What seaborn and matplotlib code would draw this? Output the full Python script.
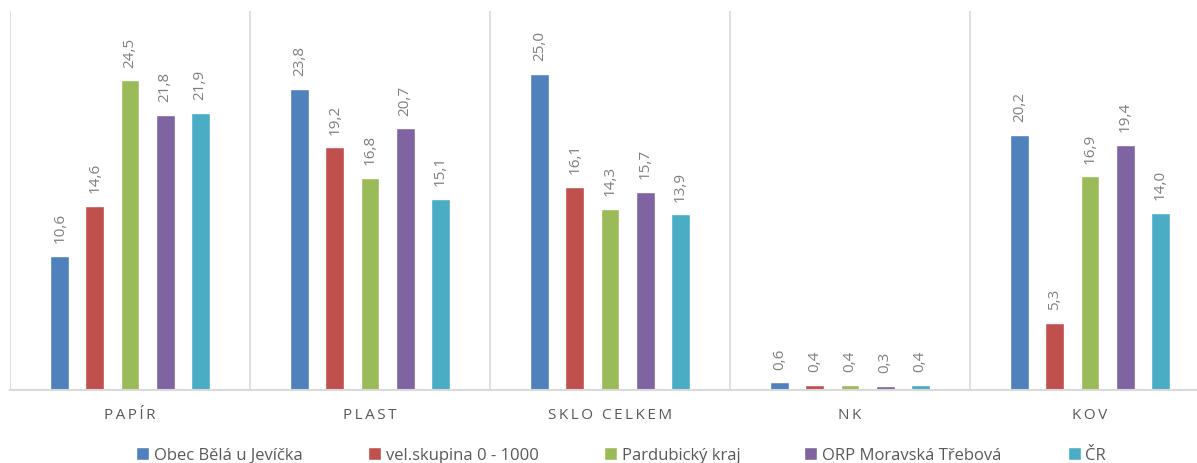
import pandas as pd
import matplotlib.pyplot as plt
import seaborn as sns

categories = ['PAPÍR', 'PLAST', 'SKLO CELKEM', 'NK', 'KOV']
series = ['Obec Bělá u Jevíčka', 'vel.skupina 0 - 1000', 'Pardubický kraj',
          'ORP Moravská Třebová', 'ČR']
obec = [10.6, 23.8, 25.0, 0.6, 20.2]
skupina = [14.6, 19.2, 16.1, 0.4, 5.3]
kraj = [24.5, 16.8, 14.3, 0.4, 16.9]
orp = [21.8, 20.7, 15.7, 0.3, 19.4]
cr = [21.9, 15.1, 13.9, 0.4, 14.0]
colors = ['#4F81BD', '#C0504D', '#9BBB59', '#8064A2', '#4BACC6']

rows = []
for name, vals in zip(series, [obec, skupina, kraj, orp, cr]):
    for cat, v in zip(categories, vals):
        rows.append({'cat': cat, 'series': name, 'value': v})
df = pd.DataFrame(rows)

sns.set_style('white')
plt.rcParams['font.family'] = ['Open Sans', 'DejaVu Sans']

fig = plt.figure(figsize=(11.97, 4.64), dpi=100)
ax = fig.add_axes([10 / 1197, 73 / 464, 1200 / 1197, 379 / 464])

sns.barplot(data=df, x='cat', y='value', hue='series', order=categories,
            hue_order=series, palette=colors, width=0.73, gap=0.46,
            saturation=1, ax=ax, legend=True)

# value labels
for cont in ax.containers:
    labels = [f'{v:.1f}'.replace('.', ',') for v in cont.datavalues]
    ax.bar_label(cont, labels=labels, rotation=90, padding=10,
                 fontsize=11, color='#7F7F7F')

ax.set_xlim(-0.5, 4.5)
ax.set_ylim(0, 30)
for xb in [-0.5, 0.5, 1.5, 2.5, 3.5]:
    ax.axvline(xb, color='#D9D9D9', lw=1.2, zorder=0)
for s in ['top', 'right', 'left']:
    ax.spines[s].set_visible(False)
ax.spines['bottom'].set_color('#D9D9D9')
ax.spines['bottom'].set_linewidth(1.5)
ax.set_yticks([])
ax.set_xlabel('')
ax.set_ylabel('')
ax.set_xticks(range(5))
ax.set_xticklabels(['\u2009'.join(c) for c in categories], fontsize=11,
                   color='#595959')
ax.tick_params(axis='x', length=0, pad=12)

# legend entries placed one by one, like Excel spreads them
handles, labels = ax.get_legend_handles_labels()
ax.get_legend().remove()
legend_x = [136, 368, 604, 804, 1068]
for h, lab, xp in zip(handles, labels, legend_x):
    lg = fig.legend([h], [lab], loc='center left',
                    bbox_to_anchor=(xp / 1197, 8 / 464),
                    frameon=False, fontsize=12, handlelength=0.8,
                    handleheight=0.8, handletextpad=0.25, borderpad=0,
                    borderaxespad=0, labelcolor='#595959')

fig.savefig('out.png', dpi=100)
